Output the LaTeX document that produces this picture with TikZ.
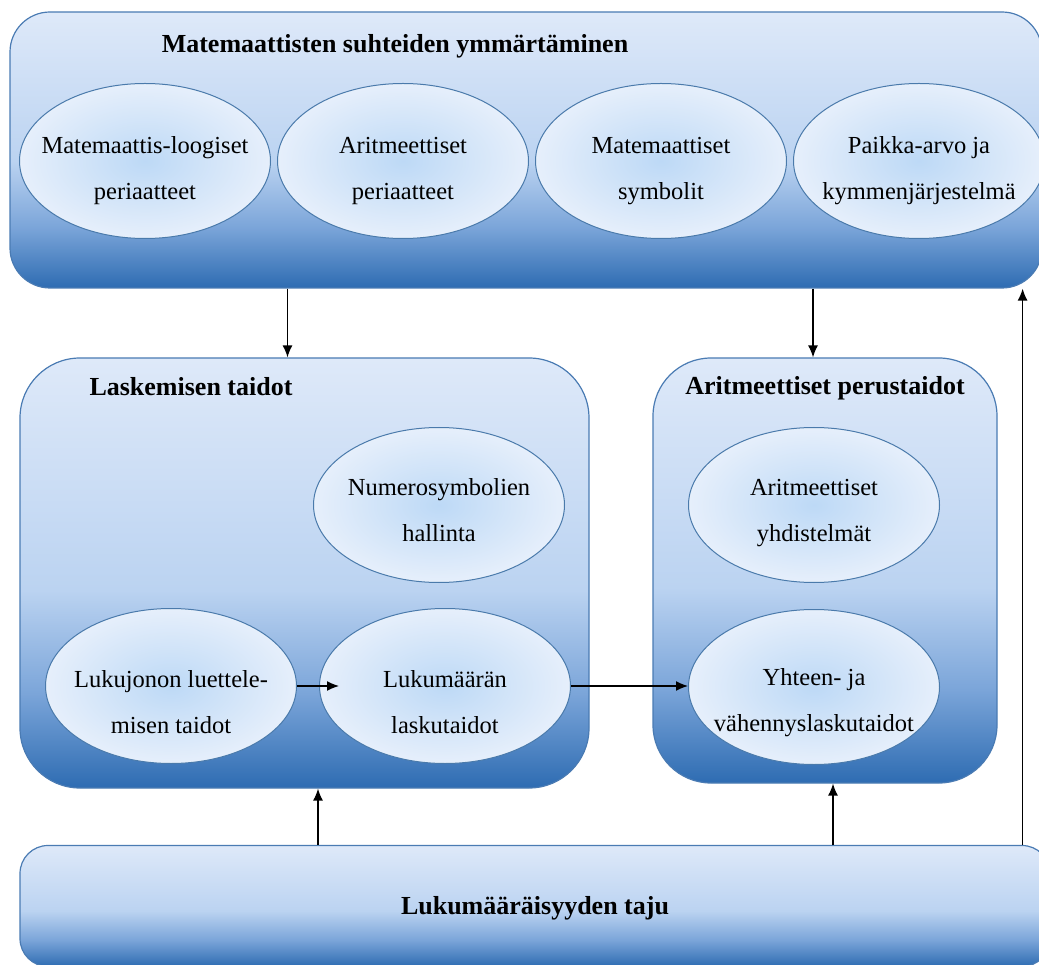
\documentclass[tikz,border=0pt]{standalone}
\usepackage{fontspec}
\setmainfont{Liberation Serif}
\usetikzlibrary{positioning,arrows.meta,shapes.geometric}

\definecolor{boxlight}{HTML}{DEE9F9}
\definecolor{boxmid}{HTML}{BBD3F1}
\definecolor{boxlow}{HTML}{7BA5D9}
\definecolor{boxdark}{HTML}{2E6CB2}
\definecolor{boxline}{HTML}{4A7BB3}
\definecolor{ellin}{HTML}{BDD9F6}
\definecolor{ellout}{HTML}{E6EFFB}
\definecolor{ellline}{HTML}{4A7AAB}

\pgfdeclareverticalshading{boxshade}{100bp}{color(0bp)=(boxdark); color(25bp)=(boxdark); color(36bp)=(boxlow); color(48bp)=(boxmid); color(75bp)=(boxlight); color(100bp)=(boxlight)}

\begin{document}
\begin{tikzpicture}[x=1pt, y=-1pt, every text node part/.style={align=center}]

\tikzstyle{panel} = [rectangle, draw=boxline, line width=1.2pt, shade, shading=boxshade]
\tikzstyle{bubble} = [ellipse, draw=ellline, line width=1pt, inner color=ellin, outer color=ellout, minimum width=251pt, minimum height=155pt]
\tikzstyle{etext} = [font=\fontsize{24.5}{46}\selectfont, align=center]
\tikzstyle{heading} = [font=\fontsize{26}{30}\selectfont\bfseries]
\tikzstyle{arrow} = [draw, line width=1.4pt, -{Latex[length=12pt,width=10pt]}]

\useasboundingbox (0,0) rectangle (1039,965);
\clip (0,0) rectangle (1039,965);

\node [panel, rounded corners=40pt, minimum width=1032pt, minimum height=276pt] (sym) at (526,150) {};
\node [heading] (symtitle) at (395,46) {Matemaattisten suhteiden ymmärtäminen};

\node [bubble, label={[etext, yshift=-10pt]center:{Matemaattis-loogiset\\periaatteet}}] (logic) at (145,161) {};
\node [bubble, right=6pt of logic, label={[etext, yshift=-10pt]center:{Aritmeettiset\\periaatteet}}] (arper) {};
\node [bubble, right=6pt of arper, label={[etext, yshift=-10pt]center:{Matemaattiset\\symbolit}}] (msym) {};
\node [bubble, right=6pt of msym, label={[etext, yshift=-10pt]center:{Paikka-arvo ja\\kymmenjärjestelmä}}] (paikka) {};

\node [panel, rounded corners=60pt, minimum width=569pt, minimum height=430pt] (lasku) at (304.5,573) {};
\node [heading] (laskutitle) at (191,387) {Laskemisen taidot};

\node [bubble, label={[etext, yshift=-5pt]center:{Numerosymbolien\\hallinta}}] (numero) at (439,505) {};
\node [bubble, label={[etext, yshift=-16pt]center:{Lukujonon luettele-\\misen taidot}}] (jono) at (171,686) {};
\node [bubble, right=22pt of jono, label={[etext, yshift=-16pt]center:{Lukumäärän\\laskutaidot}}] (maara) {};

\node [panel, rounded corners=58pt, minimum width=344pt, minimum height=425pt] (perus) at (825,570.5) {};
\node [heading] (perustitle) at (825,388) {Aritmeettiset perustaidot};

\node [bubble, label={[etext, yshift=-8pt]center:{Aritmeettiset\\yhdistelmät}}] (yhd) at (814,505) {};
\node [bubble, below=26pt of yhd, label={[etext, yshift=-16pt]center:{Yhteen- ja\\vähennyslaskutaidot}}] (yhteen) {};

\node [panel, rounded corners=28pt, minimum width=1030pt, minimum height=121pt] (taju) at (535,906) {};
\node [heading] (tajutitle) at (535,908) {Lukumääräisyyden taju};

\draw [arrow] ([xshift=-17pt]lasku.north |- sym.south) -- ([xshift=-17pt]lasku.north);
\draw [arrow] ([xshift=-12pt]perus.north |- sym.south) -- ([xshift=-12pt]perus.north);
\draw [arrow] (jono.east) -- ([xshift=20pt]maara.west);
\draw [arrow] (maara.east) -- (maara.east -| yhteen.west);
\draw [arrow] ([xshift=13.5pt]lasku.south |- taju.north) -- ([xshift=13.5pt]lasku.south);
\draw [arrow] ([xshift=8pt]perus.south |- taju.north) -- ([xshift=8pt]perus.south);
\draw [arrow] ([xshift=-20pt]sym.south east |- taju.north) -- ([xshift=-20pt]sym.south east);
\end{tikzpicture}
\end{document}
